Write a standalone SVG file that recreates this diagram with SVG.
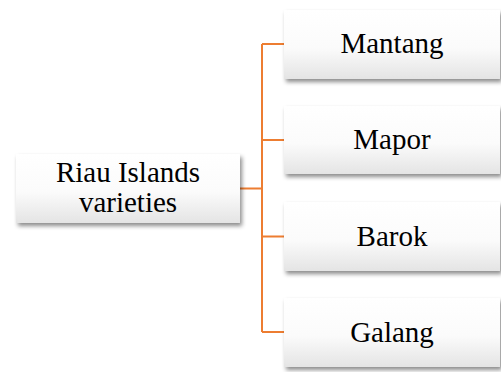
<svg xmlns="http://www.w3.org/2000/svg" width="501" height="372" viewBox="0 0 501 372">
<defs>
<linearGradient id="g" x1="0" y1="0" x2="0" y2="1">
<stop offset="0" stop-color="#ffffff"/>
<stop offset="0.55" stop-color="#fbfbfb"/>
<stop offset="1" stop-color="#e4e4e4"/>
</linearGradient>
<filter id="sh" x="-10%" y="-20%" width="125%" height="150%">
<feDropShadow dx="2" dy="3" stdDeviation="2" flood-color="#000" flood-opacity="0.45"/>
</filter>
</defs>
<style>
.box{fill:url(#g);filter:url(#sh);}
.t{font-family:"Liberation Serif","Times New Roman",serif;font-size:29px;fill:#000;text-anchor:middle;}
.c{stroke:#ED7D31;stroke-width:2;fill:none;}
</style>
<rect width="501" height="372" fill="#fff"/>
<g id="connectors">
<path class="c" d="M240 188.5H262M262 44V332M262 44H284M262 140H284M262 236.5H284M262 332H284"/>
</g>
<g id="root">
<rect class="box" x="16" y="154" width="224" height="69"/>
<text class="t" x="128" y="182">Riau Islands</text>
<text class="t" x="128" y="212">varieties</text>
</g>
<g id="mantang">
<rect class="box" x="284" y="10" width="216" height="69"/>
<text class="t" x="392" y="53">Mantang</text>
</g>
<g id="mapor">
<rect class="box" x="284" y="106" width="216" height="68"/>
<text class="t" x="392" y="149">Mapor</text>
</g>
<g id="barok">
<rect class="box" x="284" y="202" width="216" height="69"/>
<text class="t" x="392" y="246">Barok</text>
</g>
<g id="galang">
<rect class="box" x="284" y="298" width="216" height="69"/>
<text class="t" x="392" y="342">Galang</text>
</g>
</svg>
